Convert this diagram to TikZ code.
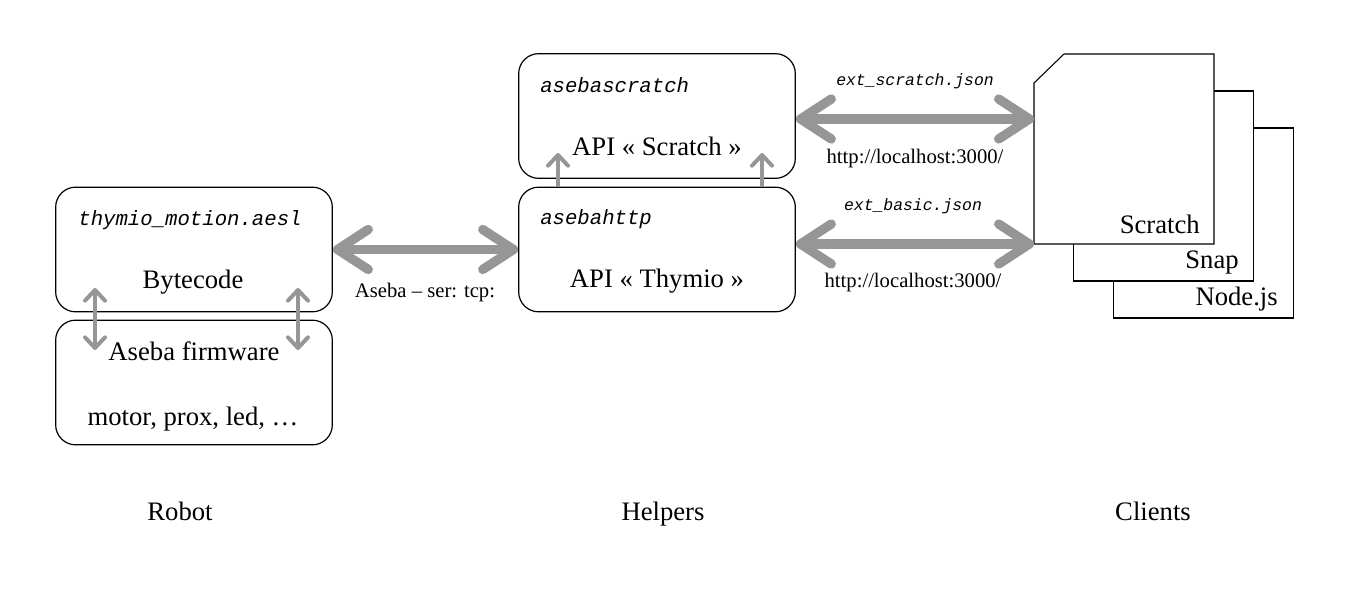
\documentclass[tikz,border=0pt]{standalone}
\usepackage{fontspec}
\setmainfont{Liberation Serif}
\setmonofont{Liberation Mono}
\usetikzlibrary{arrows.meta,calc}
\definecolor{arrowgray}{RGB}{150,150,150}
\begin{document}
\begin{tikzpicture}[x=0.75pt,y=-0.75pt,
  box/.style={draw=black,line width=0.9pt,rounded corners=15pt,minimum width=207.5pt,minimum height=93.5pt,inner sep=0pt},
  doc/.style={draw=black,line width=0.8pt,fill=white,minimum width=135pt,minimum height=142.5pt,inner sep=0pt},
  big/.style={draw=arrowgray,line width=7pt,{Straight Barb[length=23pt,width=30pt,round]}-{Straight Barb[length=23pt,width=30pt,round]}},
  small/.style={draw=arrowgray,line width=3pt,{Straight Barb[length=8pt,width=15pt,round]}-{Straight Barb[length=8pt,width=15pt,round]}},
  smallup/.style={draw=arrowgray,line width=3pt,-{Straight Barb[length=8pt,width=15pt,round]}},
  maintxt/.style={font=\fontsize{20}{24}\selectfont,inner sep=0pt},
  lbltxt/.style={font=\fontsize{15.5}{18}\selectfont,inner sep=0pt},
  monotxt/.style={font=\fontsize{15.5}{18}\selectfont\ttfamily\itshape,inner sep=0pt},
  monosmall/.style={font=\fontsize{12.3}{15}\selectfont\ttfamily\itshape,inner sep=0pt}]
\useasboundingbox (0,0) rectangle (1350,589);
% Robot
\node[box] (rt) at (194,249.5) {};
\node[box] (rb) at (194,382.5) {};
\node[monotxt,anchor=base] (rt1) at (190,225) {thymio\_motion.aesl};
\node[maintxt,anchor=base] (rt2) at (193,288) {Bytecode};
\node[maintxt,anchor=base] (rb1) at (194,360) {Aseba firmware};
\node[maintxt,anchor=base] (rb2) at (193,425) {motor, prox, led, …};
\coordinate (la1) at (95,288); \coordinate (la2) at (95,350);
\coordinate (ra1) at (298,288); \coordinate (ra2) at (298,350);
\draw[small] (la1) -- (la2);
\draw[small] (ra1) -- (ra2);
% Helpers
\node[box] (ht) at (657,116) {};
\node[box] (hb) at (657,249.5) {};
\node[monotxt,anchor=base west] (ht1) at (540,92) {asebascratch};
\node[maintxt,anchor=base] (ht2) at (657,155) {API « Scratch »};
\node[monotxt,anchor=base west] (hb1) at (540,224) {asebahttp};
\node[maintxt,anchor=base] (hb2) at (657,287) {API « Thymio »};
\coordinate (ua1) at (558,187); \coordinate (ua2) at (558,153);
\coordinate (ub1) at (762,187); \coordinate (ub2) at (762,153);
\draw[smallup] (ua1) -- (ua2);
\draw[smallup] (ub1) -- (ub2);
\draw[big] (rt.east) -- (rt.east -| hb.west);
\node[lbltxt,anchor=base] (l1) at (425,297) {Aseba – ser: tcp:};
% Clients
\node[doc] (nj) at (1203.5,223) {};
\node[doc] (sn) at (1163.5,186) {};
\coordinate (scA) at (1034,83);
\coordinate (scB) at (1064,54);
\coordinate (scC) at (1214,54);
\coordinate (scD) at (1214,244);
\coordinate (scE) at (1034,244);
\filldraw[draw=black,fill=white,line width=0.8pt] (scA) -- (scB) -- (scC) -- (scD) -- (scE) -- cycle;
\node[maintxt,anchor=base east] (t1) at (1200,233) {Scratch};
\node[maintxt,anchor=base east] (t2) at (1239,268) {Snap};
\node[maintxt,anchor=base east] (t3) at (1278,305) {Node.js};
\coordinate (sw1) at (1034,119);
\draw[big] (ht.east |- sw1) -- (sw1);
\draw[big] (hb.east |- scE) -- (scE);
\node[monosmall,anchor=base] (j1) at (915,85) {ext\_scratch.json};
\node[lbltxt,anchor=base] (h1) at (915,163) {http://localhost:3000/};
\node[monosmall,anchor=base] (j2) at (913,210) {ext\_basic.json};
\node[lbltxt,anchor=base] (h2) at (913,287) {http://localhost:3000/};
% Bottom labels
\node[maintxt,anchor=base] (g1) at (180,520) {Robot};
\node[maintxt,anchor=base] (g2) at (663,520) {Helpers};
\node[maintxt,anchor=base] (g3) at (1153,520) {Clients};
\end{tikzpicture}
\end{document}
